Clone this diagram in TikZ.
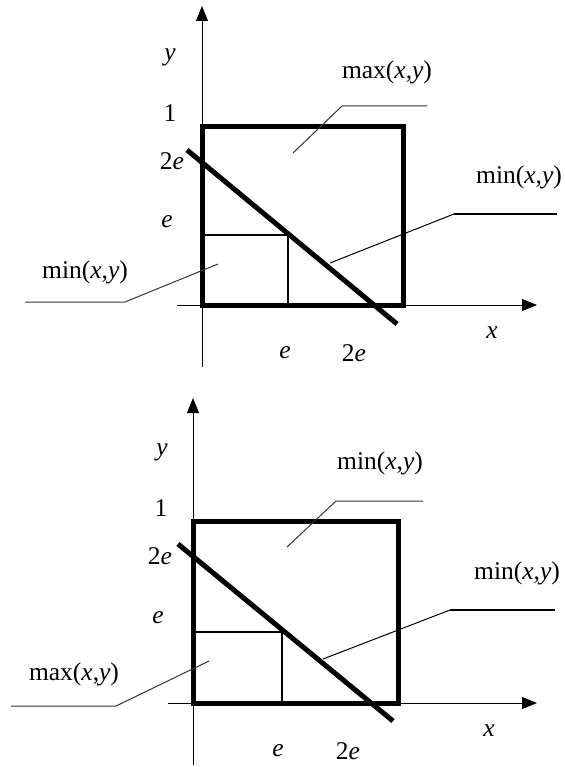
\documentclass[tikz,border=0pt]{standalone}
\usepackage{fontspec}
\setmainfont{Liberation Serif}
\usetikzlibrary{arrows.meta}
\tikzset{
  axis/.style={line width=1pt,-{Triangle[length=15pt,width=12pt]}},
  bigsq/.style={line width=5pt,line join=miter},
  diag/.style={line width=5pt},
  inner/.style={line width=1.8pt},
  leader/.style={line width=1pt,black!80},
  leaderthick/.style={line width=2.2pt},
  lbl/.style={font=\fontsize{25.5}{28}\selectfont,inner sep=0pt},
}
\begin{document}
\begin{tikzpicture}[x=1pt,y=-1pt]
\useasboundingbox (0,0) rectangle (564,767);
% ---------------- top diagram ----------------
\coordinate (yA0) at (202,367);
\coordinate (yA1) at (202,6);
\coordinate (xA0) at (177,305);
\coordinate (xA1) at (537,305);
\draw[axis] (yA0) -- (yA1);
\draw[axis] (xA0) -- (xA1);
\coordinate (sqA1) at (202,127);
\coordinate (sqA2) at (403,305);
\draw[bigsq] (sqA1) rectangle (sqA2);
\coordinate (inA1) at (202,235);
\coordinate (inA2) at (288,235);
\coordinate (inA3) at (288,305);
\draw[inner] (inA1) -- (inA2) -- (inA3);
\coordinate (dA1) at (187,150);
\coordinate (dA2) at (397,324);
\draw[diag] (dA1) -- (dA2);
% labels
\node[lbl] (ya) at (170,57) {\textit{y}};
\node[lbl] (onea) at (170,113) {1};
\node[lbl] (twoea) at (172,161) {2\textit{e}};
\node[lbl] (ea) at (167,222) {\textit{e}};
\node[lbl] (exa) at (285,353) {\textit{e}};
\node[lbl] (twoexa) at (354,353) {2\textit{e}};
\node[lbl] (xa) at (492,333) {\textit{x}};
\node[lbl] (maxa) at (387,72) {max(\textit{x},\textit{y})};
\node[lbl] (minRa) at (519,177) {min(\textit{x},\textit{y})};
\node[lbl] (minLa) at (85,272) {min(\textit{x},\textit{y})};
% leaders
\coordinate (lmA1) at (293,153);
\coordinate (lmA2) at (342,106);
\coordinate (lmA3) at (427,106);
\draw[leader] (lmA1) -- (lmA2) -- (lmA3);
\coordinate (lrA1) at (330,263);
\coordinate (lrA2) at (454,214);
\coordinate (lrA3) at (557,214);
\draw[leader,black] (lrA1) -- (lrA2);
\draw[leaderthick] (lrA2) -- (lrA3);
\coordinate (llA1) at (218,264);
\coordinate (llA2) at (125,302);
\coordinate (llA3) at (25,302);
\draw[leader] (llA1) -- (llA2) -- (llA3);
% ---------------- bottom diagram ----------------
\coordinate (yB0) at (193,765);
\coordinate (yB1) at (193,398);
\coordinate (xB0) at (168,703);
\coordinate (xB1) at (537,703);
\draw[axis] (yB0) -- (yB1);
\draw[axis] (xB0) -- (xB1);
\coordinate (sqB1) at (193,521);
\coordinate (sqB2) at (398,703);
\draw[bigsq] (sqB1) rectangle (sqB2);
\coordinate (inB1) at (193,632);
\coordinate (inB2) at (282,632);
\coordinate (inB3) at (282,703);
\draw[inner] (inB1) -- (inB2) -- (inB3);
\coordinate (dB1) at (178,544);
\coordinate (dB2) at (393,721);
\draw[diag] (dB1) -- (dB2);
% labels
\node[lbl] (yb) at (162,452) {\textit{y}};
\node[lbl] (oneb) at (161,508) {1};
\node[lbl] (twoeb) at (160,556) {2\textit{e}};
\node[lbl] (eb) at (158,618) {\textit{e}};
\node[lbl] (exb) at (278,751) {\textit{e}};
\node[lbl] (twoexb) at (348,751) {2\textit{e}};
\node[lbl] (xb) at (489,731) {\textit{x}};
\node[lbl] (minTb) at (380,463) {min(\textit{x},\textit{y})};
\node[lbl] (minRb) at (517,573) {min(\textit{x},\textit{y})};
\node[lbl] (maxLb) at (74,674) {max(\textit{x},\textit{y})};
% leaders
\coordinate (lmB1) at (287,547);
\coordinate (lmB2) at (336,501);
\coordinate (lmB3) at (423,501);
\draw[leader] (lmB1) -- (lmB2) -- (lmB3);
\coordinate (lrB1) at (323,659);
\coordinate (lrB2) at (450,610);
\coordinate (lrB3) at (555,610);
\draw[leader,black] (lrB1) -- (lrB2);
\draw[leaderthick] (lrB2) -- (lrB3);
\coordinate (llB1) at (209,661);
\coordinate (llB2) at (116,706);
\coordinate (llB3) at (11,706);
\draw[leader] (llB1) -- (llB2) -- (llB3);
\end{tikzpicture}
\end{document}
